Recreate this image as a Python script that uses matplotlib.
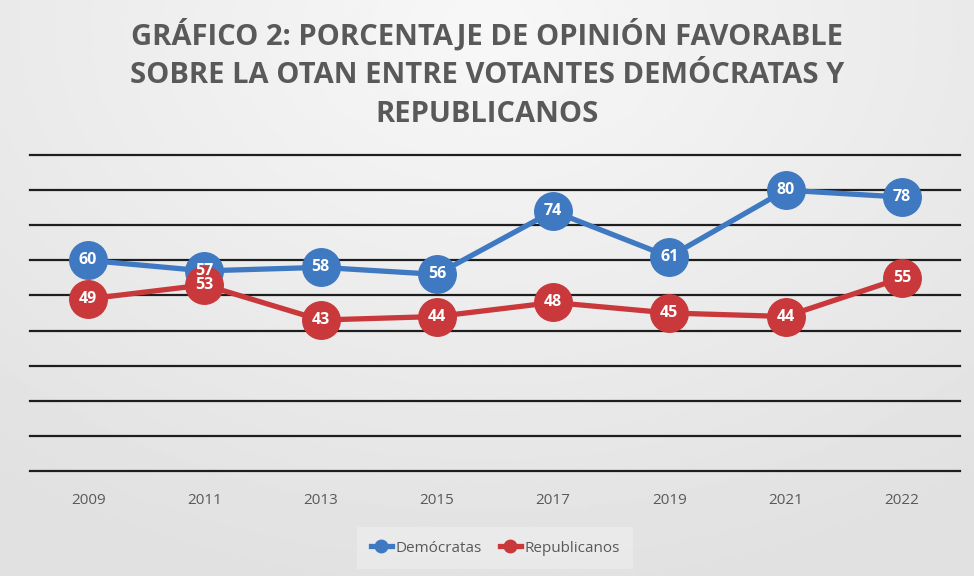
import numpy as np
import matplotlib.pyplot as plt

years = ["2009", "2011", "2013", "2015", "2017", "2019", "2021", "2022"]
democratas = [60, 57, 58, 56, 74, 61, 80, 78]
republicanos = [49, 53, 43, 44, 48, 45, 44, 55]

BLUE = "#3f79c2"
RED = "#c9383a"
TEXT = "#595959"

plt.rcParams["font.family"] = ["Open Sans", "DejaVu Sans"]

fig = plt.figure(figsize=(9.74, 5.76), dpi=100)
fig.patch.set_facecolor("#e6e6e6")

# soft background gradient (lighter near the top centre)
bg = fig.add_axes([0, 0, 1, 1], zorder=-10)
yy, xx = np.mgrid[0:1:200j, 0:1:300j]
dist = np.sqrt(((xx - 0.5) * 1.2) ** 2 + ((yy - 0.05) * 1.0) ** 2)
shade = 0.97 - 0.09 * np.clip(dist, 0, 1)
bg.imshow(shade, cmap="gray", vmin=0, vmax=1, aspect="auto",
          extent=[0, 1, 1, 0])
bg.axis("off")

ax = fig.add_axes([30 / 974, 1 - 471 / 576, 930 / 974, 316 / 576])
ax.patch.set_alpha(0)
x = np.arange(len(years))

for g in range(0, 100, 10):
    ax.axhline(g, color="#1e1e1e", lw=1.6, zorder=1, clip_on=False)

for vals, col in [(democratas, BLUE), (republicanos, RED)]:
    ax.plot(x, vals, color=col, lw=3.8, marker="o", ms=27,
            markerfacecolor=col, markeredgecolor=col, zorder=3)
    for xi, v in zip(x, vals):
        ax.text(xi, v, str(v), color="white", fontsize=11.5,
                fontweight="bold", ha="center", va="center", zorder=4)

ax.set_xlim(-0.5, len(years) - 0.5)
ax.set_ylim(0, 90)
ax.set_yticks([])
ax.set_xticks(x)
ax.set_xticklabels(years, color=TEXT, fontsize=11)
ax.tick_params(axis="x", length=0, pad=16)
for s in ax.spines.values():
    s.set_visible(False)

fig.text(0.5, 1 - 19 / 576,
         "GRÁFICO 2: PORCENTAJE DE OPINIÓN FAVORABLE\n"
         "SOBRE LA OTAN ENTRE VOTANTES DEMÓCRATAS Y\n"
         "REPUBLICANOS",
         ha="center", va="top", color=TEXT, fontsize=21,
         fontweight="bold", linespacing=1.45)

handles = [
    plt.Line2D([], [], color=BLUE, lw=3.8, marker="o", ms=9),
    plt.Line2D([], [], color=RED, lw=3.8, marker="o", ms=9),
]
leg = fig.legend(handles, ["Demócratas", "Republicanos"],
                 loc="center", bbox_to_anchor=(495 / 974, 1 - 548 / 576),
                 ncol=2, frameon=True, fontsize=11, handlelength=1.4,
                 handletextpad=0.2, columnspacing=1.2, borderpad=0.9)
leg.get_frame().set_facecolor("#ececec")
leg.get_frame().set_edgecolor("none")
leg.get_frame().set_boxstyle("square", pad=0)
for t in leg.get_texts():
    t.set_color(TEXT)

fig.savefig("out.png", dpi=100)
